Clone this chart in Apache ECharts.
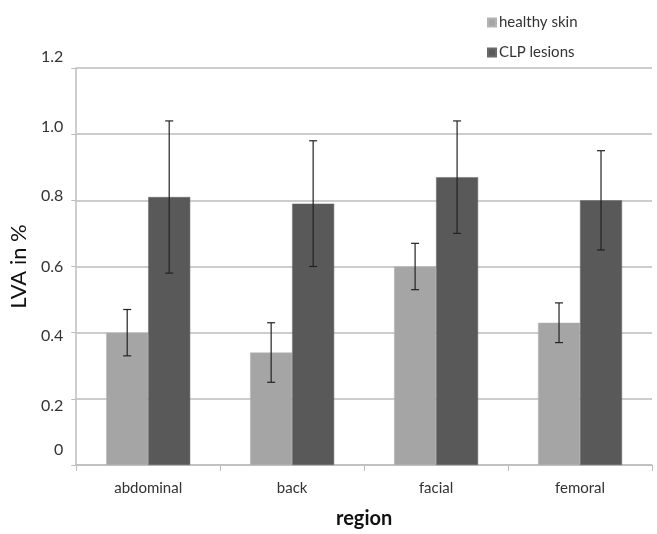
<!DOCTYPE html>
<html>
<head>
<meta charset="utf-8">
<script src="https://cdn.jsdelivr.net/npm/echarts@6/dist/echarts.min.js"></script>
<style>
html,body{margin:0;padding:0;background:#fff;}
#chart{width:657px;height:534px;}
</style>
</head>
<body>
<div id="chart"></div>
<script>
var categories = ['abdominal', 'back', 'facial', 'femoral'];
var healthyValues = [0.40, 0.34, 0.60, 0.43];
var healthyErrors = [0.07, 0.09, 0.07, 0.06];
var clpValues = [0.81, 0.79, 0.87, 0.80];
var clpErrors = [0.23, 0.19, 0.17, 0.15];
var seriesNames = ['healthy skin', 'CLP lesions'];
var yTicks = [0, 0.2, 0.4, 0.6, 0.8, 1.0, 1.2];
var yTickLabels = ['0', '0.2', '0.4', '0.6', '0.8', '1.0', '1.2'];

var FONT = 'Lato';
var BAR_W = 42;
var colors = ['#a5a5a5', '#595959'];

// label vertical shift styles (mimic the reference's label placement)
var labelStyle = ['z', 'p2', 'p4', 'p6', 'p8', 'p10', 'p12'];

function errData(vals, errs) {
  return vals.map(function (v, i) { return [i, v - errs[i], v + errs[i]]; });
}

function errSeries(name, data, side) {
  return {
    type: 'custom',
    name: name + ' error',
    data: data,
    z: 10,
    silent: true,
    tooltip: {show: false},
    renderItem: function (params, api) {
      var x = api.value(0);
      var lo = api.coord([x, api.value(1)]);
      var hi = api.coord([x, api.value(2)]);
      var cx = lo[0] + side * BAR_W / 2;
      var cap = 4;
      var st = {stroke: '#222', lineWidth: 1.2};
      return {
        type: 'group',
        children: [
          {type: 'line', shape: {x1: cx, y1: hi[1], x2: cx, y2: lo[1]}, style: st},
          {type: 'line', shape: {x1: cx - cap, y1: hi[1], x2: cx + cap, y2: hi[1]}, style: st},
          {type: 'line', shape: {x1: cx - cap, y1: lo[1], x2: cx + cap, y2: lo[1]}, style: st}
        ]
      };
    }
  };
}

var chart = echarts.init(document.getElementById('chart'), null, {renderer: 'canvas'});
chart.setOption({
  animation: false,
  backgroundColor: '#fff',
  textStyle: {fontFamily: FONT},
  legend: {
    orient: 'vertical',
    left: 482,
    top: 10,
    itemWidth: 8,
    itemHeight: 8,
    itemGap: 15,
    icon: 'rect',
    textStyle: {fontFamily: FONT, fontSize: 15, color: '#333', padding: [0, 0, 0, -2]},
    data: seriesNames
  },
  grid: {left: 73, right: 5, top: 68, bottom: 62, containLabel: false},
  xAxis: {
    type: 'category',
    data: categories,
    name: 'region',
    nameLocation: 'middle',
    nameGap: 44,
    nameTextStyle: {fontFamily: FONT, fontSize: 20, fontWeight: 'bold', color: '#111'},
    axisLine: {lineStyle: {color: '#bdbdbd', width: 1.5}},
    axisTick: {show: true, length: 6, lineStyle: {color: '#bdbdbd'}},
    axisLabel: {fontFamily: FONT, fontSize: 15, color: '#333', margin: 16}
  },
  yAxis: {
    type: 'value',
    min: 0,
    max: 1.2,
    interval: 0.2,
    name: 'LVA in %',
    nameLocation: 'middle',
    nameGap: 36,
    nameTextStyle: {fontFamily: FONT, fontSize: 22, color: '#111'},
    axisLine: {show: true, lineStyle: {color: '#bdbdbd', width: 1.5}},
    axisTick: {show: true, length: 5, lineStyle: {color: '#bdbdbd'}},
    splitLine: {lineStyle: {color: '#bdbdbd', width: 1.5}},
    axisLabel: {
      fontFamily: FONT, fontSize: 16, color: '#333', margin: 13,
      formatter: function (v) {
        var i = -1;
        for (var k = 0; k < yTicks.length; k++) { if (Math.abs(yTicks[k] - v) < 1e-6) i = k; }
        if (i < 0) return '';
        return '{' + labelStyle[i] + '|' + yTickLabels[i] + '}';
      },
      rich: {
        z: {fontFamily: FONT, fontSize: 16, color: '#333', padding: [0, 0, 30, 0]},
        p2: {fontFamily: FONT, fontSize: 16, color: '#333', padding: [14, 0, 0, 0]},
        p4: {fontFamily: FONT, fontSize: 16, color: '#333', padding: [6, 0, 0, 0]},
        p6: {fontFamily: FONT, fontSize: 16, color: '#333', padding: [0, 0, 0, 0]},
        p8: {fontFamily: FONT, fontSize: 16, color: '#333', padding: [0, 0, 8, 0]},
        p10: {fontFamily: FONT, fontSize: 16, color: '#333', padding: [0, 0, 14, 0]},
        p12: {fontFamily: FONT, fontSize: 16, color: '#333', padding: [0, 0, 22, 0]}
      }
    }
  },
  series: [
    {
      name: seriesNames[0], type: 'bar', data: healthyValues,
      barWidth: BAR_W, barGap: '0%',
      itemStyle: {color: colors[0], borderColor: '#b4b4b4', borderWidth: 0.5}
    },
    {
      name: seriesNames[1], type: 'bar', data: clpValues,
      barWidth: BAR_W, barGap: '0%',
      itemStyle: {color: colors[1], borderColor: '#6a6a6a', borderWidth: 0.5}
    },
    errSeries(seriesNames[0], errData(healthyValues, healthyErrors), -1),
    errSeries(seriesNames[1], errData(clpValues, clpErrors), 1)
  ]
});
</script>
</body>
</html>
